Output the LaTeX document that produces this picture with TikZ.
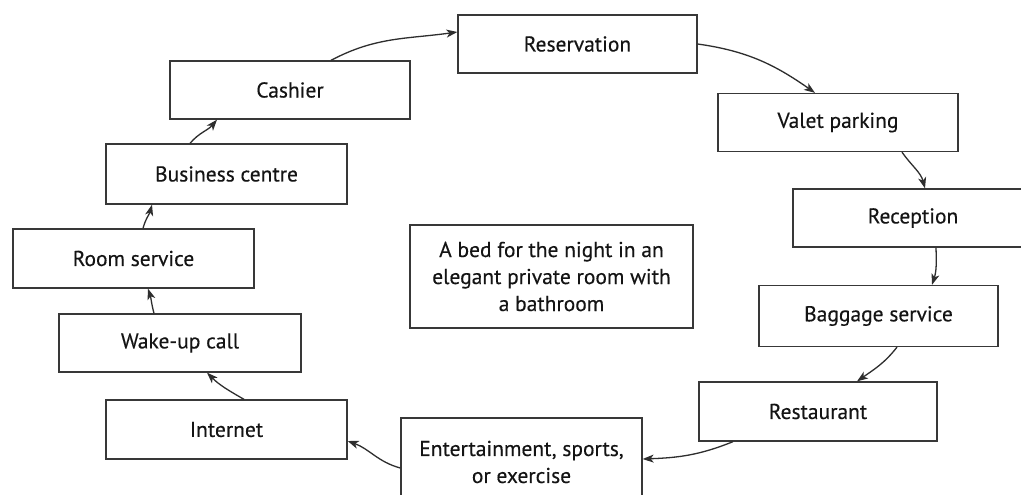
\documentclass[tikz,border=0pt]{standalone}
\usepackage{fontspec}
\setmainfont{PT Sans}[BoldFont=PT Sans,BoldFeatures={FakeBold=0.3}]
\usetikzlibrary{arrows.meta}
\begin{document}
\begin{tikzpicture}[x=1pt,y=-1pt,
  svcbox/.style={draw=black!78,line width=1.3pt,inner sep=0pt,align=center,
    text=black!92,font=\fontsize{21.5}{27}\selectfont\bfseries},
  flow/.style={draw=black!82,line width=1.3pt,
    -{Stealth[length=11pt,width=8pt,inset=3pt]}}]
\useasboundingbox (0,0) rectangle (1021,495);
\clip (0,0) rectangle (1021,495);
\fill[white] (0,0) rectangle (1021,495);

% service boxes around the ring
\node[svcbox,minimum width=239pt,minimum height=58pt] (res)  at (577.5,44)  {Reservation};
\node[svcbox,minimum width=240pt,minimum height=58pt] (val)  at (838,122.5) {Valet parking};
\node[svcbox,minimum width=240pt,minimum height=58pt] (rec)  at (913,218)   {Reception};
\node[svcbox,minimum width=239pt,minimum height=61pt] (bag)  at (878.5,316) {Baggage service};
\node[svcbox,minimum width=238pt,minimum height=59pt] (rest) at (818,411.5) {Restaurant};
\node[svcbox,minimum width=241pt,minimum height=88pt] (ent)  at (521.5,462) {Entertainment, sports,\\or exercise};
\node[svcbox,minimum width=241pt,minimum height=59pt] (net)  at (226.5,429.5) {Internet};
\node[svcbox,minimum width=242pt,minimum height=58pt] (wake) at (180,343)   {Wake-up call};
\node[svcbox,minimum width=241pt,minimum height=59pt] (room) at (133.5,258.5) {Room service};
\node[svcbox,minimum width=241pt,minimum height=60pt] (bus)  at (226.5,174) {Business centre};
\node[svcbox,minimum width=240pt,minimum height=58pt] (cash) at (290,90)    {Cashier};

% core product in the middle
\node[svcbox,minimum width=283pt,minimum height=103pt] (core) at (551.5,276.5)
  {A bed for the night in an\\elegant private room with\\a bathroom};

% connectors, clockwise
\draw[flow] ([xshift=41pt]cash.north) to[out=28,in=188] ([yshift=12pt]res.west);
\draw[flow] (res.east) to[out=-8,in=145] ([xshift=-23pt]val.north);
\draw[flow] ([xshift=64pt]val.south) to[out=-55,in=105] ([xshift=12pt]rec.north);
\draw[flow] ([xshift=23pt]rec.south) to[out=-88,in=72] ([xshift=53.5pt]bag.north);
\draw[flow] ([xshift=18.5pt]bag.south) to[out=-128,in=35] ([xshift=39pt]rest.north);
\draw[flow] ([xshift=-85pt]rest.south) to[out=-158,in=2] ([yshift=3pt]ent.east);
\draw[flow] ([yshift=-6pt]ent.west) to[out=165,in=-20] ([yshift=-11.5pt]net.east);
\draw[flow] ([xshift=17.5pt]net.north) to[out=150,in=-45] ([xshift=27pt]wake.south);
\draw[flow] ([xshift=-26pt]wake.north) to[out=105,in=-72] ([xshift=14.5pt]room.south);
\draw[flow] ([xshift=9.5pt]room.north) to[out=75,in=-105] ([xshift=-74.5pt]bus.south);
\draw[flow] ([xshift=-36.5pt]bus.north) to[out=50,in=-130] ([xshift=-73pt]cash.south);
\end{tikzpicture}
\end{document}
